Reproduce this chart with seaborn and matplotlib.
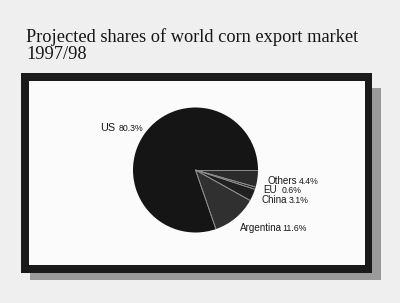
import numpy as np
import seaborn as sns
import matplotlib.pyplot as plt
import matplotlib.patches as mpatches

# Data
regions = ['Others', 'EU', 'China', 'Argentina', 'US']
shares = [4.4, 0.6, 3.1, 11.6, 80.3]
slice_colors = ['#2b2b2b', '#1c1c1c', '#202020', '#303030', '#151515']

sns.set_theme(style="white")
plt.rcParams['font.family'] = ['Liberation Sans', 'DejaVu Sans']

W, H = 400, 303
fig = plt.figure(figsize=(W / 100, H / 100), dpi=100, facecolor='#efefef')

def px_rect(x0, y0, x1, y1, color):
    # rectangle given in pixel coords (origin top-left)
    fig.patches.append(mpatches.Rectangle(
        (x0 / W, 1 - y1 / H), (x1 - x0) / W, (y1 - y0) / H,
        transform=fig.transFigure, facecolor=color, edgecolor='none', zorder=-1))

# drop shadow, black frame, white panel
px_rect(30, 88, 381, 280, '#9a9a9a')
px_rect(21, 73, 372, 273, '#1a1a1a')
px_rect(29, 81, 365, 265, '#fbfbfb')

# Title
fig.text(26 / W, 1 - 42 / H, 'Projected shares of world corn export market',
         family='Liberation Serif', fontsize=13.2, color='#151515', va='baseline')
fig.text(26 / W, 1 - 59 / H, '1997/98',
         family='Liberation Serif', fontsize=13.2, color='#151515', va='baseline')

# Pie
cx, cy, r = 195.5, 170, 62.5
ax = fig.add_axes([(cx - r) / W, 1 - (cy + r) / H, 2 * r / W, 2 * r / H], zorder=3)
wedges, _ = ax.pie(shares, colors=slice_colors, startangle=0, counterclock=False,
                   wedgeprops=dict(edgecolor='none'))
# light separators between slices (outer rim stays dark)
for w in wedges:
    for ang in (w.theta1, w.theta2):
        a = np.deg2rad(ang)
        ax.plot([0, np.cos(a)], [0, np.sin(a)], color='#8c8c8c', lw=0.6,
                solid_capstyle='butt')
ax.set_aspect('auto')
ax.set_xlim(-1, 1)
ax.set_ylim(-1, 1)
ax.axis('off')

# Labels (name, percent) at pixel positions of the baseline start
label_pos = {
    'US': (100, 131),
    'Others': (267, 184),
    'EU': (263, 193),
    'China': (261, 203),
    'Argentina': (240, 231),
}
renderer = fig.canvas.get_renderer()
for name, val in zip(regions, shares):
    x, y = label_pos[name]
    size = 7.8 if name == 'US' else 7.1
    t = fig.text(x / W, 1 - y / H, name, fontsize=size, color='#1a1a1a',
                 va='baseline', zorder=4)
    bb = t.get_window_extent(renderer=renderer)
    gap = {'US': 4, 'EU': 5, 'Argentina': 0.5}.get(name, 2)
    fig.text((bb.x1 + gap) / W, 1 - y / H, f'{val}%', fontsize=6.3,
             color='#1a1a1a', va='baseline', zorder=4)

fig.savefig('out.png', dpi=100, facecolor=fig.get_facecolor())
